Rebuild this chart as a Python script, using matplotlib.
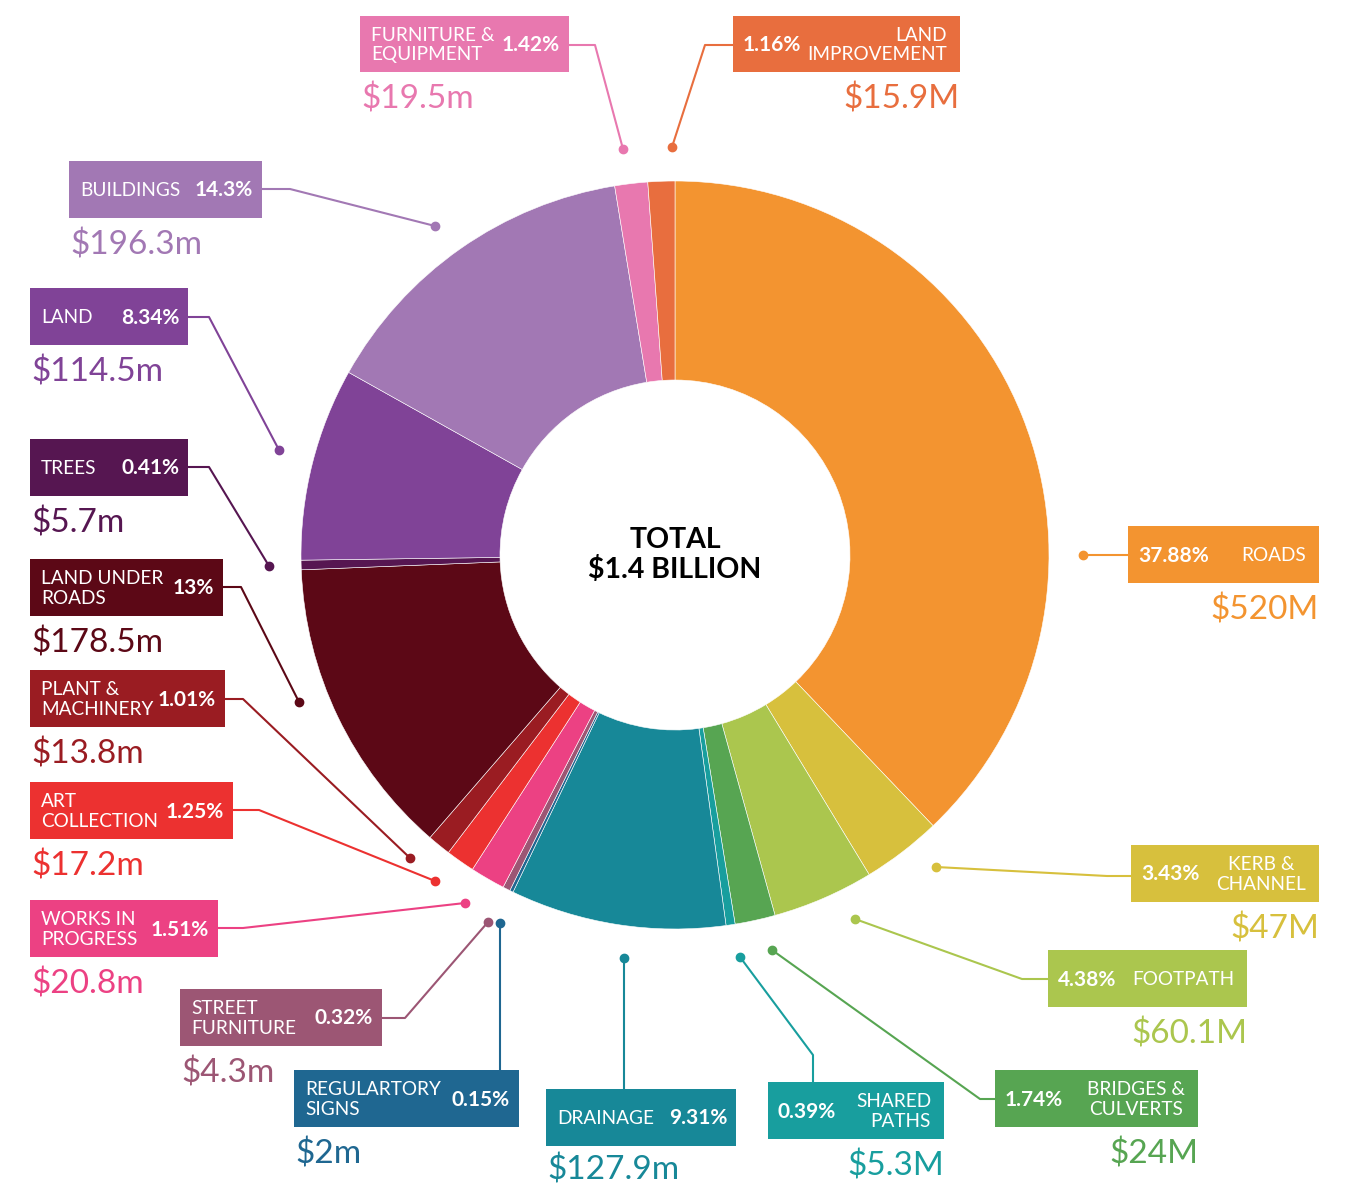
import matplotlib.pyplot as plt

# ---- data (clockwise from 12 o'clock) ----
categories = ['ROADS', 'KERB &\nCHANNEL', 'FOOTPATH', 'BRIDGES &\nCULVERTS', 'SHARED\nPATHS',
              'DRAINAGE', 'REGULARTORY\nSIGNS', 'STREET\nFURNITURE', 'WORKS IN\nPROGRESS',
              'ART\nCOLLECTION', 'PLANT &\nMACHINERY', 'LAND UNDER\nROADS', 'TREES', 'LAND',
              'BUILDINGS', 'FURNITURE &\nEQUIPMENT', 'LAND\nIMPROVEMENT']
shares = [37.88, 3.43, 4.38, 1.74, 0.39, 9.31, 0.15, 0.32, 1.51, 1.25, 1.01, 13, 0.41, 8.34,
          14.3, 1.42, 1.16]
pct_labels = ['37.88%', '3.43%', '4.38%', '1.74%', '0.39%', '9.31%', '0.15%', '0.32%', '1.51%',
              '1.25%', '1.01%', '13%', '0.41%', '8.34%', '14.3%', '1.42%', '1.16%']
amounts = ['$520M', '$47M', '$60.1M', '$24M', '$5.3M', '$127.9m', '$2m', '$4.3m', '$20.8m',
           '$17.2m', '$13.8m', '$178.5m', '$5.7m', '$114.5m', '$196.3m', '$19.5m', '$15.9M']
colors = ['#F39430', '#D7C03D', '#ABC64E', '#57A552', '#189E9E', '#178898', '#1F6791',
          '#9C5674', '#EC4183', '#EC3130', '#9A1C22', '#5C0816', '#561651', '#804397',
          '#A278B4', '#E878AF', '#E86E3E']
total_label = 'TOTAL\n$1.4 BILLION'

# ---- callout layout (pixels): box x0, y0, x1, y1, side, text align, leader path ----
# side 'L': name on the left, pct on the right; 'R': pct on the left, name on the right
callouts = [
    (1128, 526, 1319, 583, 'R', 'right', [(1128, 555), (1083, 555)]),
    (1131, 845, 1319, 902, 'R', 'center', [(1131, 876), (1107, 876), (936, 867)]),
    (1048, 950, 1247, 1007, 'R', 'right', [(1048, 979), (1022, 979), (855, 919)]),
    (995, 1070, 1198, 1127, 'R', 'center', [(995, 1099), (980, 1099), (772, 950)]),
    (768, 1082, 944, 1139, 'R', 'right', [(813, 1082), (813, 1055), (740, 957)]),
    (546, 1089, 736, 1146, 'L', 'left', [(624, 1089), (624, 958)]),
    (294, 1070, 519, 1127, 'L', 'left', [(500, 1070), (500, 923)]),
    (180, 989, 382, 1046, 'L', 'left', [(382, 1018), (405, 1018), (488, 922)]),
    (30, 900, 218, 957, 'L', 'left', [(218, 928), (243, 928), (465, 903)]),
    (30, 782, 233, 839, 'L', 'left', [(233, 810), (259, 810), (435, 881)]),
    (30, 670, 225, 727, 'L', 'left', [(225, 699), (243, 699), (410, 858)]),
    (30, 559, 223, 616, 'L', 'left', [(223, 587), (241, 587), (299, 702)]),
    (30, 439, 188, 496, 'L', 'left', [(188, 467), (209, 467), (269, 566)]),
    (30, 288, 188, 345, 'L', 'left', [(188, 317), (209, 317), (279, 450)]),
    (69, 161, 262, 218, 'L', 'left', [(262, 189), (290, 189), (435, 226)]),
    (360, 16, 569, 72, 'L', 'left', [(569, 45), (595, 45), (623, 149)]),
    (733, 16, 960, 72, 'R', 'right', [(733, 45), (705, 45), (672, 147)]),
]

W, H = 1348, 1185
cx, cy, r_out, r_in = 675, 555, 374, 175

fig = plt.figure(figsize=(W / 100, H / 100), dpi=100)
ax = fig.add_axes([0, 0, 1, 1])

# donut (y axis is flipped below, so counterclock=True runs clockwise on screen)
ax.pie(shares, colors=colors, startangle=-90, counterclock=True, radius=r_out,
       center=(cx, cy), frame=True,
       wedgeprops=dict(width=r_out - r_in, linewidth=0.4, edgecolor='white'))

ax.text(cx, cy, total_label, ha='center', va='center', fontsize=20.5, fontweight='bold',
        family='Lato', color='black', linespacing=1.1)

for i, (x0, y0, x1, y1, side, malign, path) in enumerate(callouts):
    col = colors[i]
    ax.add_patch(plt.Rectangle((x0, y0), x1 - x0, y1 - y0, facecolor=col, edgecolor='none',
                               zorder=3))
    ym = (y0 + y1) / 2 + 1
    amt_y = min(y1 + 27, H - 15)
    if side == 'L':
        ax.text(x0 + 11, ym, categories[i], ha='left', va='center', color='white',
                fontsize=13.7, family='Lato', linespacing=1.2, zorder=4)
        ax.text(x1 - 9, ym, pct_labels[i], ha='right', va='center', color='white',
                fontsize=15, fontweight='bold', family='Lato', zorder=4)
        ax.text(x0 + 1, amt_y, amounts[i], ha='left', va='center', color=col,
                fontsize=24, family='Lato', zorder=4)
    else:
        ax.text(x0 + 10, ym, pct_labels[i], ha='left', va='center', color='white',
                fontsize=15, fontweight='bold', family='Lato', zorder=4)
        ax.text(x1 - 13, ym, categories[i], ha='right', va='center', color='white',
                fontsize=13.7, family='Lato', linespacing=1.2, multialignment=malign,
                zorder=4)
        ax.text(x1, amt_y, amounts[i], ha='right', va='center', color=col,
                fontsize=24, family='Lato', zorder=4)
    xs = [p[0] for p in path]
    ys = [p[1] for p in path]
    ax.plot(xs, ys, color=col, lw=1.5, zorder=2, solid_capstyle='round')
    ax.plot(xs[-1], ys[-1], 'o', color=col, ms=6, zorder=2)

ax.set_xlim(0, W)
ax.set_ylim(H, 0)
ax.set_aspect('equal')
ax.axis('off')

fig.savefig('out.png', dpi=100, facecolor='white')
plt.close()
